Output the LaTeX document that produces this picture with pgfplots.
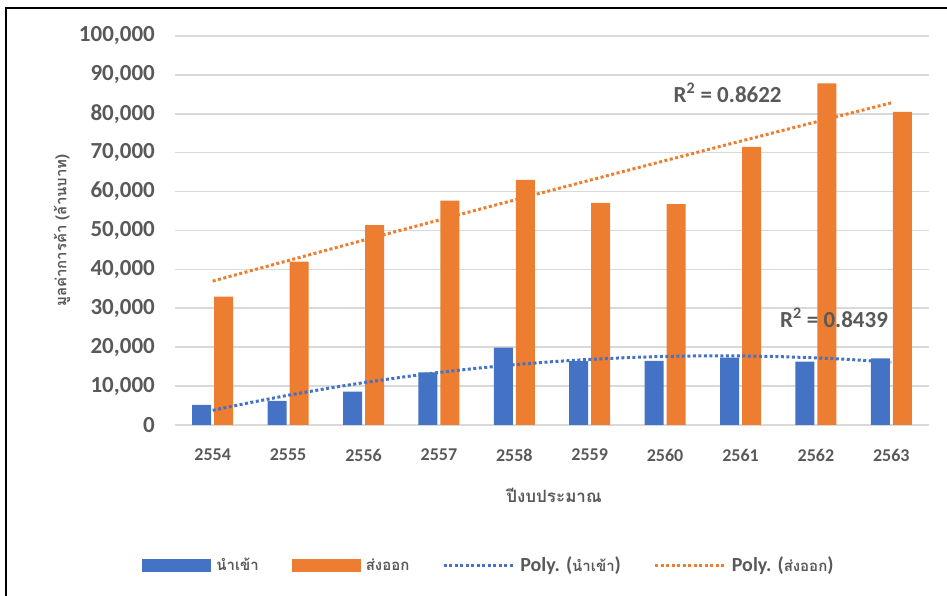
\documentclass[border=0pt]{standalone}
\usepackage{pgfplots}
\pgfplotsset{compat=1.18}
\usepackage{fontspec}
\setmainfont{Carlito}
\newfontfamily\thaifont[Script=Thai]{Loma}
\definecolor{cblue}{HTML}{4472C4}
\definecolor{corange}{HTML}{ED7D31}
\definecolor{ctext}{HTML}{595959}
\definecolor{cgrid}{HTML}{D9D9D9}
\pgfplotsset{
  barleg/.style={legend image code/.code={\fill[##1] (0bp,-6.5bp) rectangle (69bp,6.5bp);}},
  lineleg/.style={legend image code/.code={\draw[##1] (0bp,0bp) -- (61bp,0bp); \path (0bp,0bp) -- (70bp,0bp);}},
  trend/.style={line width=3bp, dash pattern=on 3bp off 2.5bp},
}
\begin{document}
\begin{tikzpicture}
\path[use as bounding box] (0,0) rectangle (947bp,596bp);
\draw[line width=2bp, black] (6bp,-2bp) -- (6bp,588bp) -- (950bp,588bp);
\begin{axis}[
  at={(175bp,171bp)}, anchor=south west,
  scale only axis, width=754bp, height=389bp,
  xmin=2553.5, xmax=2563.5, ymin=0, ymax=100000,
  xtick={2554,2555,2556,2557,2558,2559,2560,2561,2562,2563},
  xticklabels={2554,2555,2556,2557,2558,2559,2560,2561,2562,2563},
  ytick={0,10000,20000,30000,40000,50000,60000,70000,80000,90000,100000},
  scaled y ticks=false,
  /pgf/number format/assume math mode=true,
  yticklabel style={/pgf/number format/fixed, /pgf/number format/1000 sep={,},
    font=\fontsize{23bp}{27bp}\selectfont\bfseries, text=ctext, anchor=east, inner sep=0pt, xshift=-20bp},
  xticklabel style={font=\fontsize{18bp}{21bp}\selectfont\bfseries, text=ctext, anchor=center, yshift=-30bp},
  axis line style={draw=none},
  major tick length=0pt,
  ymajorgrids, grid style={cgrid, line width=1.6bp},
  xlabel={\thaifont\bfseries ปีงบประมาณ},
  ylabel={\thaifont\bfseries มูลค่าการค้า (ล้านบาท)},
  xlabel style={at={(axis description cs:0.5027,-0.18)}, anchor=center, font=\fontsize{17bp}{20bp}\selectfont, text=ctext},
  ylabel style={at={(axis description cs:-0.1499,0.5)}, anchor=center, font=\fontsize{15bp}{18bp}\selectfont, text=ctext},
  legend columns=4,
  legend style={at={(axis description cs:0.4164,-0.36)}, anchor=center, draw=none, fill=none,
    font=\fontsize{20bp}{24bp}\selectfont\bfseries, text=ctext,
    /tikz/every odd column/.append style={column sep=3bp},
    /tikz/every even column/.append style={column sep=31bp}},
]
\addplot[ybar, bar width=19bp, bar shift=-11bp, fill=cblue, draw=none, barleg] coordinates {
(2554,5200) (2555,6200) (2556,8600) (2557,13500) (2558,19900)
(2559,16400) (2560,16500) (2561,17300) (2562,16300) (2563,17100)};
\addlegendentry{{\thaifont\fontsize{15bp}{18bp}\selectfont นำเข้า}}
\addplot[ybar, bar width=19bp, bar shift=11bp, fill=corange, draw=none, barleg] coordinates {
(2554,33000) (2555,42000) (2556,51400) (2557,57700) (2558,63000)
(2559,57100) (2560,56800) (2561,71500) (2562,87800) (2563,80500)};
\addlegendentry{{\thaifont\fontsize{15bp}{18bp}\selectfont ส่งออก}}
\addplot[cblue, trend, lineleg] coordinates {
(2554,3774) (2554.5,5787) (2555,7642) (2555.5,9343) (2556,10887) (2556.5,12276)
(2557,13508) (2557.5,14585) (2558,15506) (2558.5,16272) (2559,16881) (2559.5,17334)
(2560,17632) (2560.5,17774) (2561,17760) (2561.5,17590) (2562,17264) (2562.5,16783) (2563,16145)};
\addlegendentry{Poly. ({\thaifont\fontsize{15bp}{18bp}\selectfont นำเข้า})}
\addplot[corange, trend, lineleg] coordinates {
(2554,36988) (2554.5,39634) (2555,42267) (2555.5,44889) (2556,47499) (2556.5,50098)
(2557,52684) (2557.5,55259) (2558,57822) (2558.5,60374) (2559,62914) (2559.5,65441)
(2560,67958) (2560.5,70462) (2561,72955) (2561.5,75435) (2562,77905) (2562.5,80362) (2563,82808)};
\addlegendentry{Poly. ({\thaifont\fontsize{15bp}{18bp}\selectfont ส่งออก})}
\node[font=\fontsize{23bp}{27bp}\selectfont\bfseries, text=ctext] at (axis cs:2560.83,85300) {R\textsuperscript{2} = 0.8622};
\node[font=\fontsize{23bp}{27bp}\selectfont\bfseries, text=ctext] at (axis cs:2562.24,27500) {R\textsuperscript{2} = 0.8439};
\end{axis}
\end{tikzpicture}
\end{document}
